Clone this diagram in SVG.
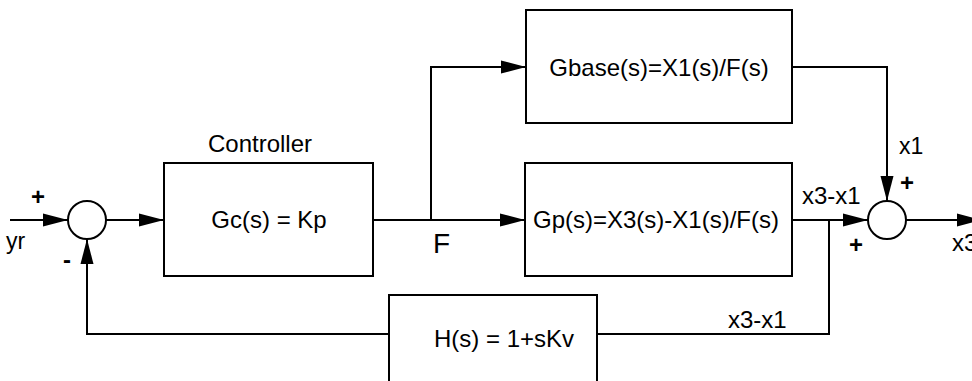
<svg xmlns="http://www.w3.org/2000/svg" width="972" height="381" viewBox="0 0 972 381">
<defs>
<marker id="arr" markerUnits="userSpaceOnUse" markerWidth="25" markerHeight="14" refX="25" refY="7" orient="auto">
<path d="M0,0.5 L25,7 L0,13.5 z" fill="#000"/>
</marker>
<style>
.blk{fill:#fff;stroke:#000;stroke-width:2}
.ln{fill:none;stroke:#000;stroke-width:2}
.t{font-family:"Liberation Sans",Arial,sans-serif;font-size:24px;fill:#000}
.s{font-family:"Liberation Sans",Arial,sans-serif;font-size:24px;font-weight:bold;fill:#000}
</style>
</defs>
<rect width="972" height="381" fill="#fff"/>
<g id="connectors">
<line class="ln" x1="10" y1="220" x2="68" y2="220" marker-end="url(#arr)"/>
<line class="ln" x1="106" y1="220" x2="164" y2="220" marker-end="url(#arr)"/>
<line class="ln" x1="373" y1="220" x2="525" y2="220" marker-end="url(#arr)"/>
<polyline class="ln" points="431,220 431,67 526,67" marker-end="url(#arr)"/>
<polyline class="ln" points="792,67 887,67 887,201" marker-end="url(#arr)"/>
<line class="ln" x1="792" y1="220" x2="868" y2="220" marker-end="url(#arr)"/>
<line class="ln" x1="906" y1="220" x2="982" y2="220" marker-end="url(#arr)"/>
<polyline class="ln" points="829,220 829,334 597,334"/>
<polyline class="ln" points="389,334 87,334 87,239" marker-end="url(#arr)"/>
</g>
<g id="sum1">
<circle class="blk" cx="87" cy="220" r="19"/>
<text class="s" x="38" y="205" text-anchor="middle">+</text>
<text class="s" x="67" y="268" text-anchor="middle">-</text>
</g>
<g id="controller">
<rect class="blk" x="164" y="163" width="209" height="113"/>
<text class="t" x="208" y="152">Controller</text>
<text class="t" x="269" y="228" text-anchor="middle">Gc(s) = Kp</text>
</g>
<g id="gbase">
<rect class="blk" x="526" y="10" width="266" height="113"/>
<text class="t" x="659" y="76" text-anchor="middle">Gbase(s)=X1(s)/F(s)</text>
</g>
<g id="gp">
<rect class="blk" x="525" y="163" width="267" height="113"/>
<text class="t" x="656" y="228" text-anchor="middle">Gp(s)=X3(s)-X1(s)/F(s)</text>
</g>
<g id="h">
<rect class="blk" x="389" y="295" width="208" height="115"/>
<text class="t" x="434" y="347">H(s) = 1+sKv</text>
</g>
<g id="sum2">
<circle class="blk" cx="887" cy="220" r="19"/>
<text class="s" x="907" y="191" text-anchor="middle">+</text>
<text class="s" x="856" y="253" text-anchor="middle">+</text>
</g>
<g id="labels">
<text class="t" x="6" y="249" style="font-size:23px">yr</text>
<text class="t" x="433" y="253" style="font-size:28px">F</text>
<text class="t" x="802" y="204">x3-x1</text>
<text class="t" x="728" y="328">x3-x1</text>
<text class="t" x="899" y="154" style="font-size:23px">x1</text>
<text class="t" x="952" y="251">x3</text>
</g>
</svg>
